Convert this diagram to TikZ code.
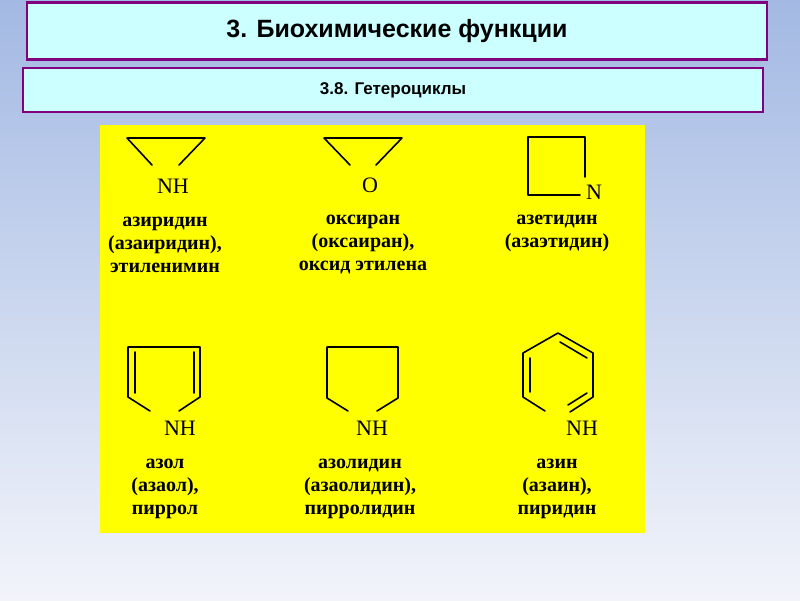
\documentclass[tikz,border=0pt]{standalone}
\usepackage{fontspec}
\setmainfont{Liberation Serif}
\newfontfamily\hdr{Liberation Sans}
\begin{document}
\begin{tikzpicture}[x=1pt,y=-1pt,
 bond/.style={line width=1.6pt,line cap=round,line join=round},
 atom/.style={inner sep=0pt,font=\fontsize{22}{22}\selectfont},
 lbl/.style={align=center,inner sep=0pt,font=\fontsize{20}{23}\selectfont\bfseries},
 hbox/.style={draw=hpurple,line width=2.5pt,fill=hcyan}]
\definecolor{bgtop}{HTML}{A3B9E3}
\definecolor{bgbot}{HTML}{F2F4FA}
\definecolor{hpurple}{HTML}{800080}
\definecolor{hcyan}{HTML}{CCFFFF}
\definecolor{ylw}{HTML}{FFFF00}
\shade[top color=bgtop,bottom color=bgbot] (0,0) rectangle (800,600);
\useasboundingbox (0,0) rectangle (800,600);
\node[hbox,minimum width=740pt,minimum height=57pt,font=\hdr\bfseries\fontsize{25}{25}\selectfont] (t1) at (397,31) {3. Биохимические функции};
\node[hbox,minimum width=740pt,minimum height=44pt,font=\hdr\bfseries\fontsize{17}{17}\selectfont] (t2) at (393,90) {3.8. Гетероциклы};
\fill[ylw] (100,125) rectangle (645,533);
% aziridine
\draw[bond] (152,165) -- (127,138) -- (205,138) -- (179,165);
\node[atom] (nh1) at (173,186) {NH};
\node[lbl] (l1) at (165,245) {азиридин\\(азаиридин),\\этиленимин};
% oxirane
\draw[bond] (350,165) -- (324,138) -- (402,138) -- (376,165);
\node[atom] (o2) at (370,185) {O};
\node[lbl] (l2) at (363,245) {оксиран\\(оксаиран),\\оксид этилена};
% azetidine
\draw[bond] (585,177) -- (585,137) -- (528,137) -- (528,195) -- (580,195);
\node[atom] (n3) at (594,192) {N};
\node[lbl] (l3) at (557,233) {азетидин\\(азаэтидин)};
% pyrrole
\draw[bond] (150,411) -- (128,397) -- (128,347) -- (200,347) -- (200,397) -- (179,411);
\draw[bond] (135,352) -- (135,393);
\draw[bond] (194,352) -- (194,393);
\node[atom] (nh4) at (180,428) {NH};
\node[lbl] (l4) at (165,489) {азол\\(азаол),\\пиррол};
% pyrrolidine
\draw[bond] (348,411) -- (327,398) -- (327,347) -- (398,347) -- (398,398) -- (377,411);
\node[atom] (nh5) at (372,428) {NH};
\node[lbl] (l5) at (360,489) {азолидин\\(азаолидин),\\пирролидин};
% pyridine
\draw[bond] (545,411) -- (523,397) -- (523,353) -- (558,333) -- (593,353) -- (593,397) -- (570,412);
\draw[bond] (530,358) -- (530,392);
\draw[bond] (560,342) -- (587,358);
\draw[bond] (587,393) -- (568,405);
\node[atom] (nh6) at (582,428) {NH};
\node[lbl] (l6) at (557,489) {азин\\(азаин),\\пиридин};
\end{tikzpicture}
\end{document}
